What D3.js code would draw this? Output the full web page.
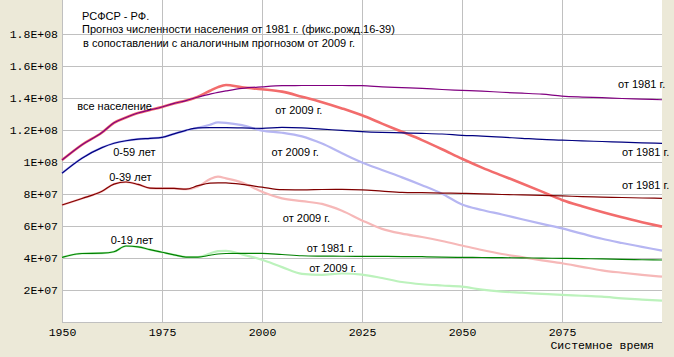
<!DOCTYPE html>
<html><head><meta charset="utf-8">
<script src="https://cdn.jsdelivr.net/npm/d3@7"></script>
<style>html,body{margin:0;padding:0;background:#ECE9D8;}svg{display:block;}</style>
</head><body>
<svg id="chart" width="674" height="357"></svg>
<script>
// ---- data (values in millions of people) ----
const years = [1950,1955,1960,1963,1966,1969,1972,1975,1978,1981,1984,1987,1989,1991,1995,2000,2005,2010,2015,2020,2025,2030,2035,2040,2045,2050,2055,2060,2065,2070,2075,2080,2085,2090,2095,2100];
const total1981 = [101.2,110.8,118.4,124.5,127.8,130.6,132.5,134.4,136.6,138.4,140.6,142.4,143.5,144.4,146,147,147.7,147.8,147.8,147.8,147.7,147,146.5,146,145.3,144.8,144.3,143.6,143,142.4,141.2,140.6,140.2,139.7,139.3,138.9];
const total2009 = [101.2,110.8,118.4,124.5,127.8,130.6,132.5,134.4,136.6,138.4,140.8,144.5,146.8,148.1,146.7,145.5,144,140.8,137.4,133.5,129.2,124,118.9,113.7,108,102,96.5,91.5,86.6,81.5,76.3,72.3,68.7,65.4,62.4,59.6];
const age59_1981 = [93,102.4,109,111.7,113.3,114.3,114.8,115.4,117.6,119.8,121.3,121.5,121.5,121.5,121.3,121,121.6,121.3,120.5,119.8,119,118.5,118.2,117.9,117.5,116.7,116.2,115.5,114.8,114.1,113.7,113.2,112.8,112.4,112,111.7];
const age59_2009 = [93,102.4,109,111.7,113.3,114.3,114.8,115.4,117.6,119.8,121.3,123.3,124.8,124.5,123,119.6,118.3,116,111.5,105.5,99.7,95,90.4,85.5,80.2,73.5,70,67.2,64.2,61.3,58.5,55.2,52,49.4,47,44.6];
const age39_1981 = [73.1,77.2,81.7,86.2,87.5,86,83.7,83.5,83.5,83,85.2,86.8,87,86.9,86,84.3,82.7,82.6,82.8,82.9,82.6,81.8,81,80.8,80.6,80.4,80.1,79.7,79.4,79.1,78.8,78.4,78.1,77.8,77.5,77.3];
const age39_2009 = [73.1,77.2,81.7,86.2,87.5,86,83.7,83.5,83.5,83,84.7,89.3,90.8,89.8,87.2,81.4,77.3,75.5,73.8,69.5,63.5,58.2,55.2,53.1,50.6,47.8,45,42.5,40.5,38.5,36.7,34.5,32.3,30.8,29.5,28.3];
const age19_1981 = [40.4,42.8,43,43.9,47.5,47,45.2,43.6,42,40.6,40.6,41.7,42.5,42.8,42.9,42.9,42.2,41.4,41.2,41.1,41,41,40.9,40.8,40.6,40.4,40.3,40.2,40.1,39.9,39.8,39.6,39.4,39.1,38.9,38.75];
const age19_2009 = [40.4,42.8,43,43.9,47.5,47,45.2,43.6,42,40.6,40.6,42.8,44.3,44.5,42.3,38.9,34.3,30.1,29.5,30.3,29.6,27.5,25,23.6,22.8,22.1,20.2,19,18.3,17.6,16.9,16.4,15.8,14.8,14,13.3];

const yTickValues = [2e7,4e7,6e7,8e7,1e8,1.2e8,1.4e8,1.6e8,1.8e8];
const yTickLabels = ["2E+07","4E+07","6E+07","8E+07","1E+08","1.2E+08","1.4E+08","1.6E+08","1.8E+08"];
const xTickValues = [1950,1975,2000,2025,2050,2075];

const titleLines = ["РСФСР - РФ.","Прогноз численности населения от 1981 г. (фикс.рожд.16-39)","в сопоставлении с аналогичным прогнозом от 2009 г."];
const seriesLabels = [
  {text:"все население", year:1953.8, val:1.325e8},
  {text:"от 2009 г.", year:2003.3, val:1.3e8},
  {text:"от 1981 г.", year:2089, val:1.4625e8},
  {text:"0-59 лет", year:1962.8, val:1.04e8},
  {text:"от 2009 г.", year:2002.4, val:1.04e8},
  {text:"от 1981 г.", year:2090, val:1.035e8},
  {text:"0-39 лет", year:1961.8, val:8.8e7},
  {text:"от 1981 г.", year:2090, val:8.3e7},
  {text:"от 2009 г.", year:2005.2, val:6.25e7},
  {text:"0-19 лет", year:1962.2, val:4.9e7},
  {text:"от 1981 г.", year:2011.2, val:4.375e7},
  {text:"от 2009 г.", year:2011.8, val:3.125e7}
];

// ---- chart ----
const svg = d3.select("#chart");
const W = 674, H = 357;
const x = d3.scaleLinear().domain([1950,2100]).range([62,662]);
const y = d3.scaleLinear().domain([0,2e8]).range([322,2]);

svg.append("rect").attr("x",0).attr("y",0).attr("width",W).attr("height",H).attr("fill","#ECE9D8");
svg.append("rect").attr("x",x(1950)).attr("y",0).attr("width",x(2100)-x(1950)).attr("height",y(0)).attr("fill","#FFFFFF");

const grid = svg.append("g").attr("stroke","#C0C0C0").attr("stroke-width",1).attr("shape-rendering","crispEdges");
yTickValues.forEach(v=>{
  grid.append("line").attr("x1",x(1950)).attr("x2",x(2100)).attr("y1",Math.round(y(v))+0.5).attr("y2",Math.round(y(v))+0.5);
});
xTickValues.forEach(v=>{
  grid.append("line").attr("x1",Math.round(x(v))+0.5).attr("x2",Math.round(x(v))+0.5).attr("y1",0).attr("y2",y(0));
});
// axes lines
grid.append("line").attr("x1",x(1950)).attr("x2",x(2100)).attr("y1",Math.round(y(0))+0.5).attr("y2",Math.round(y(0))+0.5);

// y axis labels via d3 axis
const yAxis = d3.axisLeft(y).tickValues(yTickValues).tickFormat((d,i)=>yTickLabels[i]).tickSize(0).tickPadding(4);
const gy = svg.append("g").attr("transform",`translate(${x(1950)},0)`).call(yAxis);
gy.select(".domain").remove();
gy.selectAll("text").attr("font-family","'Liberation Mono', monospace").attr("font-size","11.5px").attr("fill","#000");

const xAxis = d3.axisBottom(x).tickValues(xTickValues).tickFormat(d3.format("d")).tickSize(0).tickPadding(6);
const gx = svg.append("g").attr("transform",`translate(0,${y(0)})`).call(xAxis);
gx.select(".domain").remove();
gx.selectAll("text").attr("font-family","'Liberation Mono', monospace").attr("font-size","11.5px").attr("fill","#000");

svg.append("text").attr("x",654).attr("y",349).attr("text-anchor","end")
  .attr("font-family","'Liberation Mono', monospace").attr("font-size","11.5px").text("Системное время");

// lines
const series = [
  {vals: total2009, color:"#F26C6C", w:2.6},
  {vals: age59_2009, color:"#B6B6F2", w:2.2},
  {vals: age39_2009, color:"#F6B8B8", w:2.2},
  {vals: age19_2009, color:"#BCF2BC", w:2.2},
  {vals: total1981, color:"#800080", w:1.2},
  {vals: age59_1981, color:"#000080", w:1.2},
  {vals: age39_1981, color:"#800000", w:1.2},
  {vals: age19_1981, color:"#008000", w:1.2}
];
const line = d3.line().x(d=>x(d[0])).y(d=>y(d[1]*1e6)).curve(d3.curveMonotoneX);
series.forEach(s=>{
  svg.append("path").datum(years.map((yr,i)=>[yr,s.vals[i]]))
    .attr("d",line).attr("fill","none").attr("stroke",s.color).attr("stroke-width",s.w)
    .attr("stroke-linejoin","round");
});

// labels
const lab = svg.append("g").attr("font-family","'Liberation Sans', Arial, sans-serif").attr("font-size","11px").attr("fill","#000");
seriesLabels.forEach(l=>{
  lab.append("text").attr("x",x(l.year)).attr("y",y(l.val)).text(l.text);
});
const tl = svg.append("g").attr("font-family","'Liberation Sans', Arial, sans-serif").attr("font-size","11px").attr("fill","#000");
[[82,20],[82,33],[83,47]].forEach((p,i)=>{
  tl.append("text").attr("x",p[0]).attr("y",p[1]).text(titleLines[i]);
});
</script>
</body></html>
